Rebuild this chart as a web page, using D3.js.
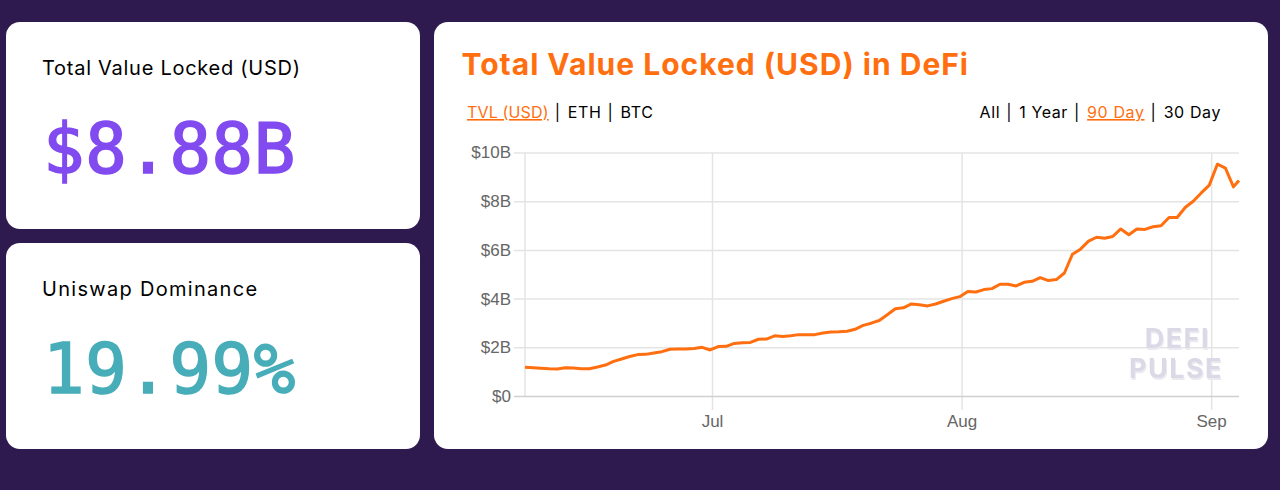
<!DOCTYPE html>
<html>
<head>
<meta charset="utf-8">
<script src="https://cdn.jsdelivr.net/npm/d3@7"></script>
<style>
  html, body { margin: 0; padding: 0; background: #2e1a4f; overflow: hidden; }
  svg { display: block; }
  .label { font-family: Inter, sans-serif; font-size: 20px; fill: #000; }
  .big { font-family: "DejaVu Sans Mono", monospace; font-size: 69px; stroke-width: 1.6px; letter-spacing: 0.6px; }
  .title { font-family: Inter, sans-serif; font-size: 30px; font-weight: 700; fill: #ff6f10; letter-spacing: 1px; }
  .links { font-family: Inter, sans-serif; font-size: 16px; fill: #000; letter-spacing: 0.6px; white-space: pre; }
  .links .on { fill: #ff6f10; text-decoration: underline; }
  .axis text { font-family: "Liberation Sans", sans-serif; font-size: 17px; fill: #666; }
  .axis .domain { display: none; }
  .axis line { stroke: #e4e4e4; stroke-width: 1.5px; }
  .mark { font-family: Inter, sans-serif; font-size: 27px; font-weight: 700; letter-spacing: 1.5px; text-anchor: end;
          fill: #dcd9e6; filter: drop-shadow(1.5px 2px 0 #eceaf1); }
</style>
</head>
<body>
<svg id="chart" width="1280" height="490"></svg>
<script>
const width = 1280;
const height = 490;
const plot = { left: 525, right: 1239, top: 152.5, bottom: 396 };
const orange = "#ff6f10";

const tvlLabel = "Total Value Locked (USD)";
const tvlValue = "$8.88B";
const uniLabel = "Uniswap Dominance";
const uniValue = "19.99%";
const chartTitle = "Total Value Locked (USD) in DeFi";
const assetLinks = ["TVL (USD)", "ETH", "BTC"];
const rangeLinks = ["All", "1 Year", "90 Day", "30 Day"];
const activeLinks = ["TVL (USD)", "90 Day"];

const yTicks = [0, 2, 4, 6, 8, 10];
const monthTicks = ["2020-07-01", "2020-08-01", "2020-09-01"];
const firstSample = "2020-06-07T18:30:00Z"; // daily samples from here
const lastSample = "2020-09-04T11:00:00Z"; // the final one is a partial day

// $B, one per day
const tvlSeries = [
  1.18, 1.16, 1.14, 1.12, 1.11, 1.16, 1.15, 1.12, 1.12, 1.19,
  1.27, 1.42, 1.52, 1.62, 1.70, 1.71, 1.77, 1.82, 1.92, 1.93,
  1.93, 1.95, 2.00, 1.89, 2.03, 2.04, 2.16, 2.19, 2.20, 2.33,
  2.34, 2.47, 2.44, 2.47, 2.52, 2.52, 2.52, 2.59, 2.63, 2.64,
  2.66, 2.74, 2.90, 2.99, 3.10, 3.34, 3.58, 3.62, 3.78, 3.75,
  3.70, 3.78, 3.89, 4.00, 4.08, 4.29, 4.27, 4.37, 4.41, 4.59,
  4.59, 4.52, 4.67, 4.71, 4.86, 4.74, 4.78, 5.05, 5.82, 6.03,
  6.36, 6.52, 6.48, 6.55, 6.86, 6.62, 6.86, 6.84, 6.95, 6.99,
  7.33, 7.33, 7.74, 8.00, 8.34, 8.66, 9.52, 9.36, 8.59, 8.85
];

const svg = d3.select("#chart");

// cards
svg.selectAll("rect.card")
  .data([[6, 22, 414, 207], [6, 243, 414, 206], [434, 22, 834, 427]])
  .join("rect")
  .attr("class", "card")
  .attr("x", d => d[0])
  .attr("y", d => d[1])
  .attr("width", d => d[2])
  .attr("height", d => d[3])
  .attr("rx", 14)
  .attr("fill", "#fff");

// left hand stats
svg.append("text").attr("class", "label").attr("x", 42).attr("y", 75)
  .style("letter-spacing", "0.73px").text(tvlLabel);
svg.append("text").attr("class", "big").attr("x", 43).attr("y", 173)
  .attr("fill", "#814bf0").attr("stroke", "#814bf0").text(tvlValue);
svg.append("text").attr("class", "label").attr("x", 42).attr("y", 296)
  .style("letter-spacing", "1.3px").text(uniLabel);
svg.append("text").attr("class", "big").attr("x", 43).attr("y", 393)
  .attr("fill", "#47adb9").attr("stroke", "#47adb9").text(uniValue);

svg.append("text").attr("class", "title").attr("x", 461.5).attr("y", 75).text(chartTitle);

function linkRow(items, x, anchor) {
  const row = svg.append("text").attr("class", "links")
    .attr("x", x).attr("y", 118).attr("text-anchor", anchor);
  items.forEach((d, i) => {
    if (i > 0) row.append("tspan").attr("dx", 1).text(" | ");
    row.append("tspan")
      .attr("dx", i > 0 ? 2 : 0)
      .attr("class", activeLinks.includes(d) ? "on" : null)
      .style("letter-spacing", d === "TVL (USD)" ? "0.15px" : null)
      .text(d);
  });
}
linkRow(assetLinks, 467, "start");
linkRow(rangeLinks, 1221, "end");

// scales
const start = new Date(firstSample);
const dates = tvlSeries.map((d, i) =>
  i === tvlSeries.length - 1 ? new Date(lastSample) : d3.utcDay.offset(start, i));
const xScale = d3.scaleUtc().domain([start, new Date(lastSample)]).range([plot.left, plot.right]);
const yScale = d3.scaleLinear().domain([0, 10]).range([plot.bottom, plot.top]);

// left edge of the plot
svg.append("g").attr("class", "axis")
  .append("line")
  .attr("x1", plot.left).attr("x2", plot.left)
  .attr("y1", plot.top).attr("y2", plot.bottom);

const xAxis = d3.axisBottom(xScale)
  .tickValues(monthTicks.map(d => new Date(d)))
  .tickFormat(d3.utcFormat("%b"))
  .tickSize(plot.bottom - plot.top + 14)
  .tickPadding(5);
svg.append("g").attr("class", "axis")
  .attr("transform", `translate(0, ${plot.top})`)
  .call(xAxis);

const yAxis = d3.axisRight(yScale)
  .tickValues(yTicks)
  .tickFormat(d => `$${d}${d ? "B" : ""}`)
  .tickSize(plot.right - plot.left + 11);
const yG = svg.append("g").attr("class", "axis")
  .attr("transform", `translate(${plot.left - 11}, 0)`)
  .call(yAxis);
yG.selectAll("text").attr("x", -3).attr("text-anchor", "end");
yG.selectAll("line").filter(d => d === 0).style("stroke", "#d0d0d0");

// watermark
[["DEFI", 1210, 348], ["PULSE", 1223, 378]].forEach(d => {
  svg.append("text").attr("class", "mark").attr("x", d[1]).attr("y", d[2]).text(d[0]);
});

const lineGenerator = d3.line()
  .x((d, i) => xScale(dates[i]))
  .y(d => yScale(d));
svg.append("path")
  .attr("d", lineGenerator(tvlSeries))
  .attr("fill", "none")
  .attr("stroke", orange)
  .attr("stroke-width", 3)
  .attr("stroke-linejoin", "round");
</script>
</body>
</html>
